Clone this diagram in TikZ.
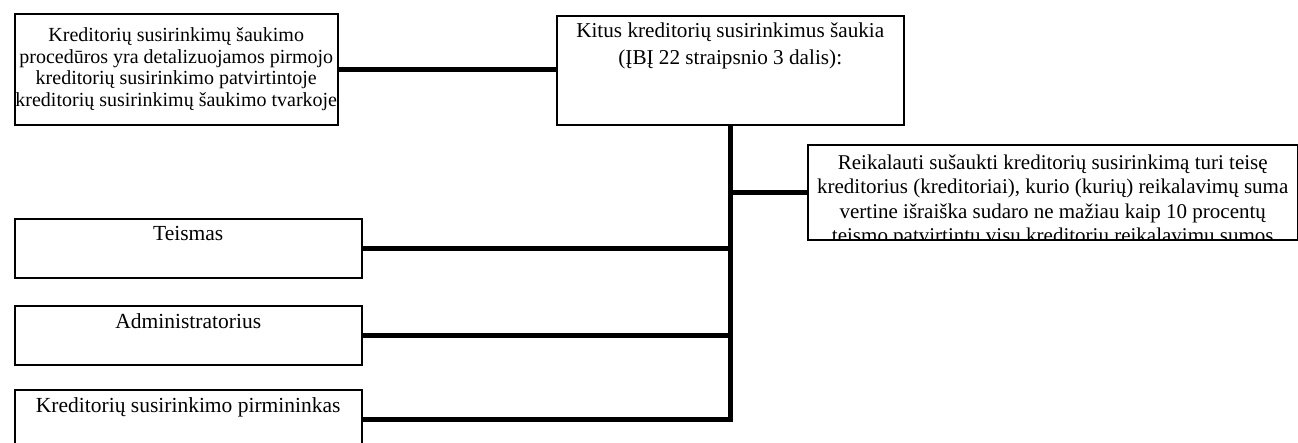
\documentclass[tikz,border=0pt]{standalone}
\usepackage{fontspec}
\setmainfont{Liberation Serif}
\tikzset{
  box/.style={draw, line width=1.5pt, inner sep=0pt, anchor=north west},
  toptext/.style={anchor=north, align=center, inner sep=0pt, yshift=-8pt},
  link/.style={line width=5pt},
}
\newcommand{\boxfont}[2]{\fontsize{#1}{#2}\selectfont}

\begin{document}
\begin{tikzpicture}[x=1pt,y=-1pt]
\useasboundingbox (0,0) rectangle (1298,442);

\node[box, minimum width=323pt, minimum height=111pt, align=center, font=\boxfont{20}{21.7}] (procedura) at (14,13) {Kreditorių susirinkimų šaukimo\\procedūros yra detalizuojamos pirmojo\\kreditorių susirinkimo patvirtintoje\\kreditorių susirinkimų šaukimo tvarkoje};
\node[box, minimum width=347pt, minimum height=109pt, label={[toptext, font=\boxfont{21.2}{27}]north:{Kitus kreditorių susirinkimus šaukia\\(ĮBĮ 22 straipsnio 3 dalis):}}] (saukia) at (556,15) {};
\node[box, minimum width=490pt, minimum height=95pt, path picture={\node[toptext, font=\boxfont{21}{24.5}] (teisetekstas) at (path picture bounding box.north) {Reikalauti sušaukti kreditorių susirinkimą turi teisę\\kreditorius (kreditoriai), kurio (kurių) reikalavimų suma\\vertine išraiška sudaro ne mažiau kaip 10 procentų\\teismo patvirtintų visų kreditorių reikalavimų sumos};}] (teise) at (807,144) {};

\node[box, minimum width=347pt, minimum height=59pt, label={[toptext, font=\boxfont{21.5}{24}]north:Teismas}] (teismas) at (14,218) {};
\node[box, minimum width=347pt, minimum height=59pt, label={[toptext, font=\boxfont{21.5}{24}]north:Administratorius}] (administratorius) at (14,305) {};
\node[box, minimum width=347pt, minimum height=59pt, label={[toptext, font=\boxfont{21.5}{24}]north:Kreditorių susirinkimo pirmininkas}] (pirmininkas) at (14,389) {};

\draw[link] (procedura.east) -- (procedura.east -| saukia.west);
\draw[link] (saukia.south) |- (pirmininkas.east);
\draw[link] (saukia.south |- teise.west) -- (teise.west);
\draw[link] (teismas.east) -- (teismas.east -| saukia.south);
\draw[link] (administratorius.east) -- (administratorius.east -| saukia.south);
\end{tikzpicture}
\end{document}
